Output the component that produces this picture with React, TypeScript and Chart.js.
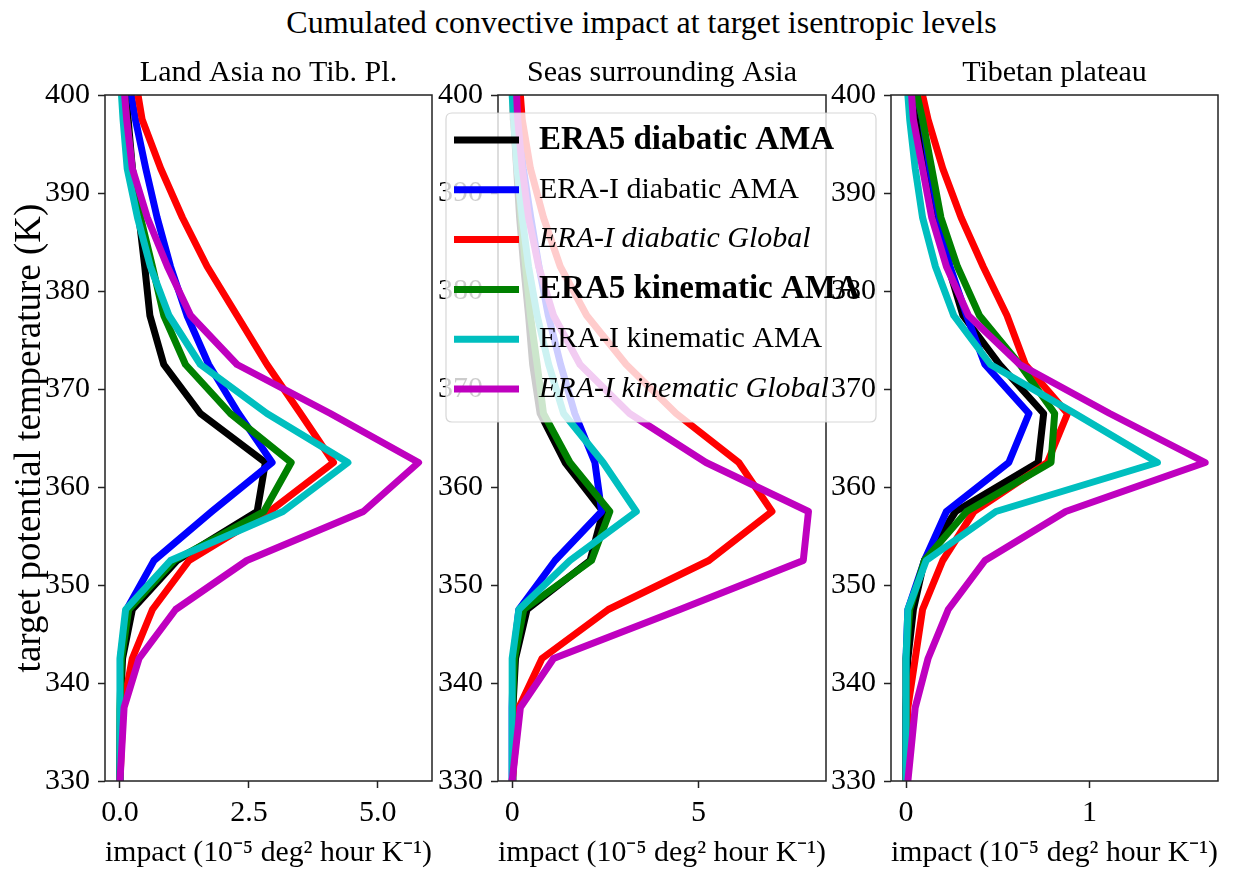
import React, { useEffect, useRef } from "react";
import { Chart, registerables } from "chart.js";

Chart.register(...registerables);

const FONT = "'Liberation Serif', 'Times New Roman', serif";

// Target isentropic levels (K)
const theta = [330, 337.5, 342.5, 347.5, 352.5, 357.5, 362.5, 367.5, 372.5, 377.5, 382.5, 387.5, 392.5, 397.5, 400];

const seriesLabels = [
  "ERA5 diabatic AMA",
  "ERA-I diabatic AMA",
  "ERA-I diabatic Global",
  "ERA5 kinematic AMA",
  "ERA-I kinematic AMA",
  "ERA-I kinematic Global",
];
const seriesColors = ["#000000", "#0000ff", "#ff0000", "#008000", "#00bfbf", "#bf00bf"];
const seriesFontStyles = ["bold", "normal", "italic", "bold", "normal", "italic"];

const panelTitles = ["Land Asia no Tib. Pl.", "Seas surrounding Asia", "Tibetan plateau"];
const xAxisTitle = "impact (10\u207B\u2075 deg\u00B2 hour K\u207B\u00B9)";
const yAxisTitle = "target potential temperature (K)";
const suptitle = "Cumulated convective impact at target isentropic levels";

// Land Asia no Tibetan plateau
const landEra5Diab = [0, 0.01, 0.05, 0.24, 1.11, 2.66, 2.82, 1.56, 0.85, 0.58, 0.48, 0.37, 0.24, 0.16, 0.12];
const landEraiDiab = [0, 0.01, 0.01, 0.13, 0.66, 1.78, 2.95, 2.3, 1.72, 1.3, 0.98, 0.72, 0.5, 0.3, 0.22];
const landEraiDiabGlobal = [0, 0.06, 0.24, 0.63, 1.34, 2.9, 4.14, 3.5, 2.85, 2.27, 1.69, 1.21, 0.79, 0.43, 0.35];
const landEra5Kin = [0, 0, 0.03, 0.17, 1.05, 2.79, 3.32, 2.14, 1.27, 0.85, 0.63, 0.4, 0.24, 0.13, 0.09];
const landEraiKin = [0, 0, 0, 0.11, 0.98, 3.16, 4.42, 2.85, 1.56, 0.95, 0.59, 0.34, 0.14, 0.06, 0.03];
const landEraiKinGlobal = [0, 0.08, 0.37, 1.08, 2.46, 4.72, 5.79, 4.08, 2.27, 1.37, 0.92, 0.53, 0.24, 0.13, 0.09];

// Seas surrounding Asia
const seasEra5Diab = [0, 0.02, 0.09, 0.4, 2.09, 2.44, 1.42, 0.75, 0.55, 0.44, 0.31, 0.2, 0.12, 0.04, 0.03];
const seasEraiDiab = [0, 0, 0.03, 0.18, 1.15, 2.4, 2.22, 1.68, 1.3, 0.97, 0.72, 0.5, 0.3, 0.15, 0.1];
const seasEraiDiabGlobal = [0, 0.18, 0.8, 2.58, 5.28, 6.97, 6.08, 4.4, 3.06, 2.0, 1.29, 0.84, 0.49, 0.27, 0.22];
const seasEra5Kin = [0, 0.01, 0.06, 0.31, 2.13, 2.62, 1.55, 0.84, 0.67, 0.49, 0.36, 0.24, 0.15, 0.06, 0.04];
const seasEraiKin = [0, 0, 0, 0.18, 1.55, 3.33, 2.44, 1.38, 0.98, 0.67, 0.44, 0.27, 0.13, 0.04, 0];
const seasEraiKinGlobal = [0, 0.22, 1.11, 4.5, 7.81, 7.95, 5.2, 3.15, 1.82, 1.11, 0.71, 0.44, 0.27, 0.15, 0.12];

// Tibetan plateau
const tibEra5Diab = [0, 0, 0.01, 0.04, 0.1, 0.27, 0.72, 0.75, 0.51, 0.31, 0.23, 0.16, 0.1, 0.07, 0.05];
const tibEraiDiab = [0, 0, 0, 0.01, 0.1, 0.22, 0.56, 0.67, 0.43, 0.33, 0.24, 0.18, 0.13, 0.09, 0.06];
const tibEraiDiabGlobal = [0, 0.01, 0.05, 0.09, 0.2, 0.37, 0.77, 0.88, 0.65, 0.55, 0.42, 0.3, 0.2, 0.12, 0.09];
const tibEra5Kin = [0, 0, 0, 0.02, 0.1, 0.33, 0.79, 0.81, 0.62, 0.4, 0.28, 0.19, 0.14, 0.09, 0.06];
const tibEraiKin = [0, 0, 0, 0.01, 0.11, 0.49, 1.37, 0.92, 0.46, 0.26, 0.16, 0.09, 0.05, 0.02, 0.01];
const tibEraiKinGlobal = [0.01, 0.05, 0.12, 0.23, 0.43, 0.87, 1.63, 1.11, 0.62, 0.34, 0.22, 0.14, 0.09, 0.04, 0.03];

// Axis ticks
const yTicks = [330, 340, 350, 360, 370, 380, 390, 400];
const xTicksLand = [0, 2.5, 5];
const xTickLabelsLand = ["0.0", "2.5", "5.0"];
const xTicksSeas = [0, 5];
const xTickLabelsSeas = ["0", "5"];
const xTicksTib = [0, 1];
const xTickLabelsTib = ["0", "1"];

type PanelDef = {
  title: string;
  series: number[][];
  xMin: number;
  xMax: number;
  xTicks: number[];
  xTickLabels: string[];
  chartLeft: number;
  chartRight: number;
  yWidth: number;
  yTitle: boolean;
  legend: boolean;
};

const W = 1243;
const H = 873;
const CHART_BOTTOM = 781;
const LINE_W = 7;

const panels: PanelDef[] = [
  {
    title: panelTitles[0],
    series: [landEra5Diab, landEraiDiab, landEraiDiabGlobal, landEra5Kin, landEraiKin, landEraiKinGlobal],
    xMin: -0.29, xMax: 6.05,
    xTicks: xTicksLand, xTickLabels: xTickLabelsLand,
    chartLeft: 105, chartRight: 432, yWidth: 105, yTitle: true, legend: false,
  },
  {
    title: panelTitles[1],
    series: [seasEra5Diab, seasEraiDiab, seasEraiDiabGlobal, seasEra5Kin, seasEraiKin, seasEraiKinGlobal],
    xMin: -0.38, xMax: 8.42,
    xTicks: xTicksSeas, xTickLabels: xTickLabelsSeas,
    chartLeft: 498, chartRight: 826, yWidth: 70, yTitle: false, legend: true,
  },
  {
    title: panelTitles[2],
    series: [tibEra5Diab, tibEraiDiab, tibEraiDiabGlobal, tibEra5Kin, tibEraiKin, tibEraiKinGlobal],
    xMin: -0.082, xMax: 1.70,
    xTicks: xTicksTib, xTickLabels: xTickLabelsTib,
    chartLeft: 891, chartRight: 1218, yWidth: 70, yTitle: false, legend: false,
  },
];

const framePlugin = {
  id: "frame",
  afterDatasetsDraw(chart: any) {
    const { ctx, chartArea } = chart;
    const { left, top, right, bottom } = chartArea;
    ctx.save();
    ctx.strokeStyle = "#222";
    ctx.lineWidth = 1.5;
    ctx.strokeRect(left, top, right - left, bottom - top);
    ctx.restore();
  },
};

const legendPlugin = {
  id: "boxLegend",
  afterDraw(chart: any) {
    const ctx = chart.ctx as CanvasRenderingContext2D;
    const bx = 446, by = 113, bw = 430, bh = 309, r = 6;
    ctx.save();
    ctx.beginPath();
    ctx.moveTo(bx + r, by);
    ctx.lineTo(bx + bw - r, by);
    ctx.quadraticCurveTo(bx + bw, by, bx + bw, by + r);
    ctx.lineTo(bx + bw, by + bh - r);
    ctx.quadraticCurveTo(bx + bw, by + bh, bx + bw - r, by + bh);
    ctx.lineTo(bx + r, by + bh);
    ctx.quadraticCurveTo(bx, by + bh, bx, by + bh - r);
    ctx.lineTo(bx, by + r);
    ctx.quadraticCurveTo(bx, by, bx + r, by);
    ctx.closePath();
    ctx.fillStyle = "rgba(255,255,255,0.8)";
    ctx.fill();
    ctx.strokeStyle = "rgba(204,204,204,0.8)";
    ctx.lineWidth = 1.2;
    ctx.stroke();

    const datasets = chart.data.datasets;
    datasets.forEach((ds: any, i: number) => {
      const y = 140 + i * 49.8;
      ctx.beginPath();
      ctx.moveTo(454, y);
      ctx.lineTo(519, y);
      ctx.strokeStyle = ds.borderColor;
      ctx.lineWidth = LINE_W;
      ctx.lineCap = "butt";
      ctx.stroke();
      const st = seriesFontStyles[i];
      const font =
        st === "bold" ? `bold 33px ${FONT}` : st === "italic" ? `italic 30px ${FONT}` : `30px ${FONT}`;
      ctx.font = font;
      ctx.fillStyle = "#000";
      ctx.textBaseline = "middle";
      ctx.textAlign = "left";
      ctx.fillText(ds.label, 539, y);
    });
    ctx.restore();
  },
};

function makeConfig(p: PanelDef): any {
  const datasets = p.series.map((vals, i) => ({
    label: seriesLabels[i],
    data: theta.map((t, k) => ({ x: vals[k], y: t })),
    borderColor: seriesColors[i],
    backgroundColor: seriesColors[i],
    borderWidth: LINE_W,
    pointRadius: 0,
    pointHoverRadius: 0,
    fill: false,
    tension: 0,
    clip: 0,
    order: seriesLabels.length - 1 - i,
    borderJoinStyle: "round",
    borderCapStyle: "butt",
  }));

  return {
    type: "line",
    data: { datasets },
    options: {
      animation: false,
      responsive: false,
      maintainAspectRatio: false,
      devicePixelRatio: 1,
      events: [],
      layout: {
        padding: {
          left: p.chartLeft - p.yWidth,
          right: W - p.chartRight,
          top: 0,
          bottom: 0,
        },
      },
      plugins: {
        legend: { display: false },
        tooltip: { enabled: false },
        title: {
          display: true,
          text: p.title,
          fullSize: false,
          color: "#000",
          font: { family: FONT, size: 30, weight: "normal", lineHeight: 1 },
          padding: { top: 58, bottom: 7 },
        },
      },
      scales: {
        x: {
          type: "linear",
          min: p.xMin,
          max: p.xMax,
          afterBuildTicks: (axis: any) => {
            axis.ticks = p.xTicks.map((v) => ({ value: v }));
          },
          afterFit: (axis: any) => {
            axis.height = H - CHART_BOTTOM;
          },
          ticks: {
            autoSkip: false,
            maxRotation: 0,
            color: "#000",
            padding: 10,
            font: { family: FONT, size: 30, lineHeight: 1 },
            callback: (_v: any, i: number) => p.xTickLabels[i],
          },
          grid: {
            display: true,
            drawOnChartArea: false,
            drawTicks: true,
            tickLength: 7,
            tickColor: "#222",
            tickWidth: 1.5,
          },
          border: { display: false },
          title: {
            display: true,
            text: xAxisTitle,
            color: "#000",
            font: { family: FONT, size: 30, lineHeight: 1.2 },
            padding: { top: 0, bottom: 2 },
          },
        },
        y: {
          type: "linear",
          min: 330,
          max: 400,
          afterBuildTicks: (axis: any) => {
            axis.ticks = yTicks.map((v) => ({ value: v }));
          },
          afterFit: (axis: any) => {
            axis.width = p.yWidth;
          },
          ticks: {
            autoSkip: false,
            color: "#000",
            padding: 8,
            font: { family: FONT, size: 30, lineHeight: 1 },
          },
          grid: {
            display: true,
            drawOnChartArea: false,
            drawTicks: true,
            tickLength: 7,
            tickColor: "#222",
            tickWidth: 1.5,
          },
          border: { display: false },
          title: {
            display: p.yTitle,
            text: yAxisTitle,
            color: "#000",
            font: { family: FONT, size: 37, lineHeight: 1 },
            padding: { top: 12, bottom: 0 },
          },
        },
      },
    },
    plugins: p.legend ? [framePlugin, legendPlugin] : [framePlugin],
  };
}

export default function App() {
  const ref1 = useRef<HTMLCanvasElement>(null);
  const ref2 = useRef<HTMLCanvasElement>(null);
  const ref3 = useRef<HTMLCanvasElement>(null);
  const refs = [ref1, ref2, ref3];

  useEffect(() => {
    const charts = panels.map((p, i) => new Chart(refs[i].current as HTMLCanvasElement, makeConfig(p)));
    return () => charts.forEach((c) => c.destroy());
  }, []);

  return (
    <div
      style={{
        position: "absolute",
        left: 0,
        top: 0,
        width: W,
        height: H,
        background: "#fff",
        overflow: "hidden",
      }}
    >
      <div
        style={{
          position: "absolute",
          left: 20,
          top: 6,
          width: W,
          textAlign: "center",
          fontFamily: FONT,
          fontSize: 32,
          lineHeight: "32px",
          color: "#000",
          whiteSpace: "nowrap",
        }}
      >
        {suptitle}
      </div>
      {refs.map((r, i) => (
        <canvas
          key={i}
          ref={r}
          width={W}
          height={H}
          style={{ position: "absolute", left: 0, top: 0, width: W, height: H }}
        />
      ))}
    </div>
  );
}
